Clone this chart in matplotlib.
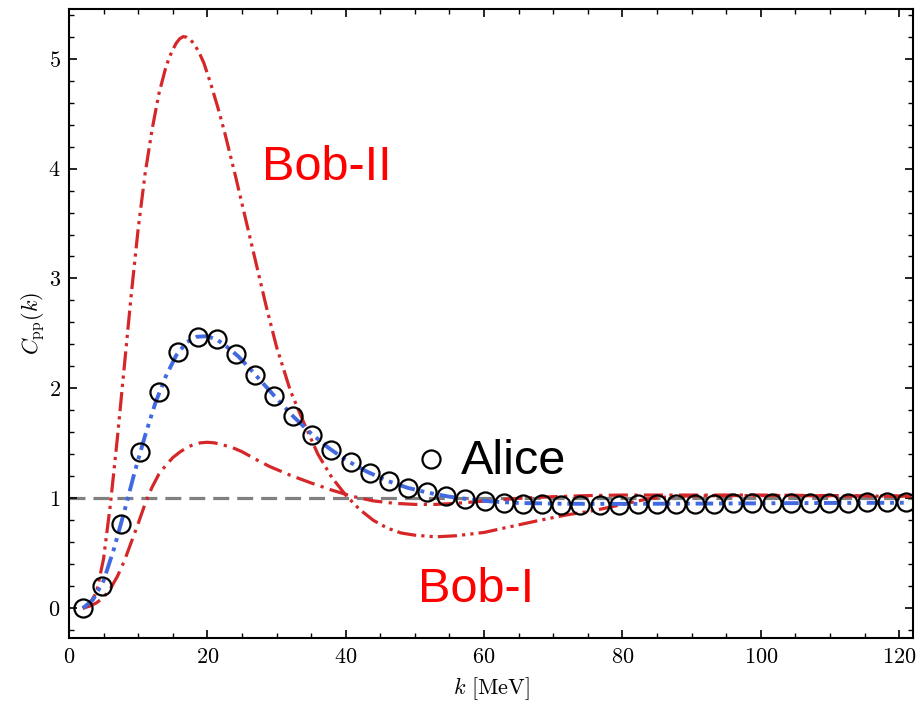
import numpy as np
import matplotlib
matplotlib.use("Agg")
import matplotlib.pyplot as plt

# Computer Modern look for axes text
plt.rcParams['font.family'] = 'serif'
plt.rcParams['font.serif'] = ['cmr10']
plt.rcParams['mathtext.fontset'] = 'cm'
plt.rcParams['axes.formatter.use_mathtext'] = True

# Alice data points
k_alice = [2.0, 4.75, 7.5, 10.3, 13.05, 15.8, 18.6, 21.35, 24.1, 26.9, 29.65, 32.4, 35.2, 37.95,
           40.7, 43.5, 46.25, 49.0, 51.8, 54.55, 57.3, 60.1, 62.85, 65.6, 68.4, 71.15, 73.9, 76.7,
           79.45, 82.2, 85.0, 87.75, 90.5, 93.3, 96.05, 98.8, 101.6, 104.35, 107.1, 109.9, 112.65,
           115.4, 118.2, 120.95]
c_alice = [0.0, 0.20, 0.77, 1.42, 1.97, 2.33, 2.47, 2.45, 2.31, 2.12, 1.93, 1.75, 1.58, 1.44,
           1.33, 1.23, 1.155, 1.095, 1.055, 1.02, 0.99, 0.975, 0.96, 0.95, 0.945, 0.94, 0.94, 0.94,
           0.94, 0.945, 0.945, 0.95, 0.95, 0.95, 0.955, 0.955, 0.955, 0.96, 0.96, 0.96, 0.96,
           0.965, 0.965, 0.965]

# Alice fit curve
k_fit = [2, 3.5, 5, 6.5, 8, 9.5, 11, 12.5, 14, 15.5, 17, 18.5, 20, 21.5, 23, 24.5, 26, 28, 30,
         32.5, 35, 37.5, 40, 43, 46, 49, 52, 55, 58, 61, 65, 70, 75, 80, 90, 100, 110, 121]
c_fit = [0.0, 0.08, 0.25, 0.54, 0.88, 1.24, 1.57, 1.87, 2.11, 2.30, 2.42, 2.47, 2.475, 2.44,
         2.37, 2.29, 2.19, 2.05, 1.91, 1.74, 1.59, 1.46, 1.35, 1.245, 1.16, 1.095, 1.05, 1.015,
         0.99, 0.972, 0.958, 0.952, 0.95, 0.95, 0.952, 0.955, 0.958, 0.96]

# Bob-II curve
k_bob2 = [2, 3, 4, 5, 6, 7, 8, 9, 10, 11, 12, 13, 14, 14.5, 15, 15.5, 16, 16.5, 17, 17.5, 18,
          18.5, 19, 19.5, 20.5, 21.5, 22.5, 24, 25.5, 27, 28.5, 30, 32, 34, 36, 38, 40, 42, 44,
          46, 48, 50, 53, 56, 60, 64, 68, 72, 76, 80, 84, 88, 95, 105, 115, 122]
c_bob2 = [0.0, 0.04, 0.15, 0.45, 0.95, 1.55, 2.2, 2.85, 3.45, 3.95, 4.35, 4.68, 4.92, 5.01,
          5.08, 5.14, 5.18, 5.20, 5.195, 5.175, 5.14, 5.09, 5.03, 4.96, 4.77, 4.56, 4.33, 3.95,
          3.55, 3.15, 2.75, 2.38, 1.98, 1.68, 1.40, 1.19, 1.03, 0.90, 0.80, 0.73, 0.685, 0.665,
          0.65, 0.66, 0.69, 0.745, 0.80, 0.85, 0.89, 0.945, 1.0, 1.02, 1.025, 1.025, 1.02, 1.02]

# Bob-I curve
k_bob1 = [2, 3, 4, 5, 6, 7, 8, 9, 10, 11, 12, 13, 14, 15, 16, 17, 18, 19, 20, 21, 22, 23.5,
          25, 27, 29, 32, 35, 38, 41, 44, 47, 50, 53, 56, 60, 65, 70, 75, 80, 90, 100, 110, 122]
c_bob1 = [0.0, 0.02, 0.05, 0.1, 0.18, 0.29, 0.43, 0.6, 0.77, 0.95, 1.1, 1.22, 1.30, 1.37,
          1.42, 1.46, 1.49, 1.505, 1.51, 1.505, 1.49, 1.465, 1.425, 1.355, 1.29, 1.21, 1.14,
          1.075, 1.018, 0.977, 0.955, 0.945, 0.945, 0.955, 0.975, 1.0, 1.015, 1.025, 1.03,
          1.03, 1.03, 1.025, 1.02]

red = '#d62728'
blue = '#4169e1'

fig = plt.figure(figsize=(9.17, 7.02), dpi=100)
ax = fig.add_axes([0.0752, 0.0912, 0.9204, 0.8958])

ax.axhline(1.0, color='#808080', lw=2.3, ls=(0, (5, 2.5)), zorder=1)
ax.plot(k_bob2, c_bob2, color=red, lw=2.3, ls=(0, (6, 1.6, 1, 1.6, 1, 1.6)), zorder=2)
ax.plot(k_bob1, c_bob1, color=red, lw=2.3, ls=(0, (6, 2, 1, 2)), zorder=2)
ax.plot(k_fit, c_fit, color=blue, lw=2.8, ls=(0, (4.5, 1.5, 1, 1.5, 1, 1.5)), zorder=3)
ax.plot(k_alice, c_alice, 'o', mfc='none', mec='black', mew=1.6, ms=13, zorder=4)

# labels inside the plot
ax.plot([52.3], [1.36], 'o', mfc='none', mec='black', mew=1.6, ms=13)
ax.text(56.6, 1.22, 'Alice', fontsize=35, family='Liberation Sans', color='black')
ax.text(27.9, 3.90, 'Bob-II', fontsize=35, family='Liberation Sans', color='#ff0000')
ax.text(50.4, 0.057, 'Bob-I', fontsize=35, family='Liberation Sans', color='#ff0000')

ax.set_xlim(0, 122)
ax.set_ylim(-0.27, 5.45)
ax.set_xticks([0, 20, 40, 60, 80, 100, 120])
ax.set_yticks([0, 1, 2, 3, 4, 5])
ax.set_xticks(np.arange(0, 122, 5), minor=True)
ax.set_yticks(np.arange(-0.2, 5.45, 0.2), minor=True)
ax.tick_params(which='both', direction='in', top=True, right=True, labelsize=16)
ax.tick_params(which='major', length=6, width=1.2)
ax.tick_params(axis='x', which='major', pad=7)
ax.tick_params(axis='y', which='major', pad=6)
ax.tick_params(which='minor', length=3.5, width=1)
for s in ax.spines.values():
    s.set_linewidth(1.5)

ax.set_xlabel(r'$k\ [\mathrm{MeV}]$', fontsize=16, labelpad=6)
ax.set_ylabel(r'$C_{\rm pp}(k)$', fontsize=16, labelpad=1)

plt.savefig('out.png', dpi=100)
